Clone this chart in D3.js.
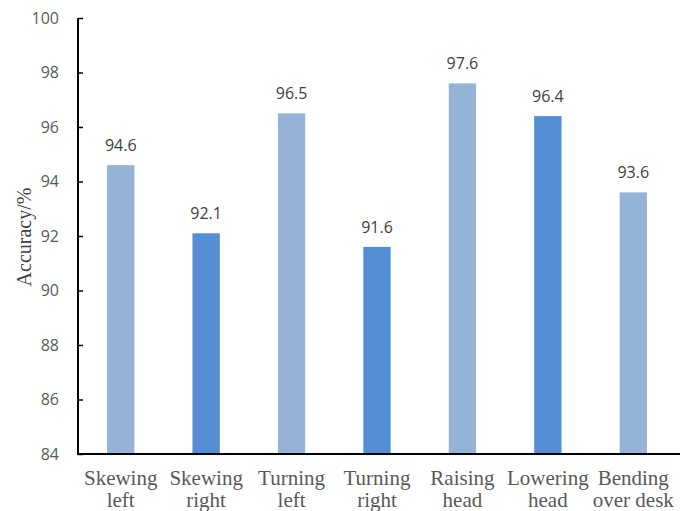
<!DOCTYPE html>
<html>
<head>
<meta charset="utf-8">
<script src="https://cdn.jsdelivr.net/npm/d3@7"></script>
<style>
  html, body { margin: 0; padding: 0; background: #fff; }
  svg { display: block; }
</style>
</head>
<body>
<svg id="chart" width="684" height="511"></svg>
<script>
// Recognition accuracy per posture class
const categories = [
  ["Skewing", "left"],
  ["Skewing", "right"],
  ["Turning", "left"],
  ["Turning", "right"],
  ["Raising", "head"],
  ["Lowering", "head"],
  ["Bending", "over desk"]
];
const accuracy = [94.6, 92.1, 96.5, 91.6, 97.6, 96.4, 93.6];
const barColors = ["#95B3D7", "#558ED5"];
const yTicks = [84, 86, 88, 90, 92, 94, 96, 98, 100];
const yLabel = "Accuracy/%";

const svg = d3.select("#chart");
const margin = { left: 78, right: 8, top: 18, bottom: 57 };
const W = 684, H = 511;

const x = d3.scaleBand()
  .domain(d3.range(categories.length))
  .range([margin.left, W - margin.right])
  .paddingInner(0.68)
  .paddingOuter(0.34);

const y = d3.scaleLinear()
  .domain([84, 100])
  .range([H - margin.bottom, margin.top]);

// bars
svg.append("g").selectAll("rect")
  .data(accuracy)
  .join("rect")
  .attr("x", (d, i) => x(i))
  .attr("width", x.bandwidth())
  .attr("y", d => y(d))
  .attr("height", d => y(84) - y(d))
  .attr("fill", (d, i) => barColors[i % 2]);

// value labels
svg.append("g").selectAll("text")
  .data(accuracy)
  .join("text")
  .attr("x", (d, i) => x(i) + x.bandwidth() / 2)
  .attr("y", d => y(d) - 14)
  .attr("text-anchor", "middle")
  .attr("font-family", "'Open Sans', 'Liberation Sans', sans-serif")
  .attr("font-size", 16)
  .attr("fill", "#404040")
  .text(d => d.toFixed(1));

// y axis with inward ticks
const yAxis = svg.append("g")
  .attr("transform", `translate(${margin.left},0)`)
  .call(d3.axisRight(y).tickValues(yTicks).tickSize(5).tickFormat(d3.format("d")));
yAxis.select(".domain").attr("stroke", "#000").attr("stroke-width", 2).attr("d", `M0,${y(100)}V${y(84)}`);
yAxis.selectAll(".tick line").attr("stroke", "#000").attr("stroke-width", 1.5);
yAxis.selectAll(".tick text")
  .attr("x", -19)
  .attr("text-anchor", "end")
  .attr("font-family", "'Open Sans', 'Liberation Sans', sans-serif")
  .attr("font-size", 16)
  .attr("fill", "#595959");

// x baseline
svg.append("line")
  .attr("x1", margin.left - 1).attr("x2", W - 4)
  .attr("y1", y(84)).attr("y2", y(84))
  .attr("stroke", "#000").attr("stroke-width", 2);

// category labels
const catG = svg.append("g").selectAll("text")
  .data(categories)
  .join("text")
  .attr("text-anchor", "middle")
  .attr("font-family", "'Liberation Serif', 'Times New Roman', serif")
  .attr("font-size", 21)
  .attr("fill", "#595959");
catG.each(function(lines, i) {
  const t = d3.select(this);
  lines.forEach((ln, k) => {
    t.append("tspan")
      .attr("x", x(i) + x.bandwidth() / 2)
      .attr("y", y(84) + 31 + k * 22)
      .text(ln);
  });
});

// y axis title
svg.append("text")
  .attr("transform", `translate(31,${(y(100) + y(84)) / 2 + 1}) rotate(-90)`)
  .attr("text-anchor", "middle")
  .attr("font-family", "'Liberation Serif', 'Times New Roman', serif")
  .attr("font-size", 20)
  .attr("fill", "#404040")
  .text(yLabel);
</script>
</body>
</html>
